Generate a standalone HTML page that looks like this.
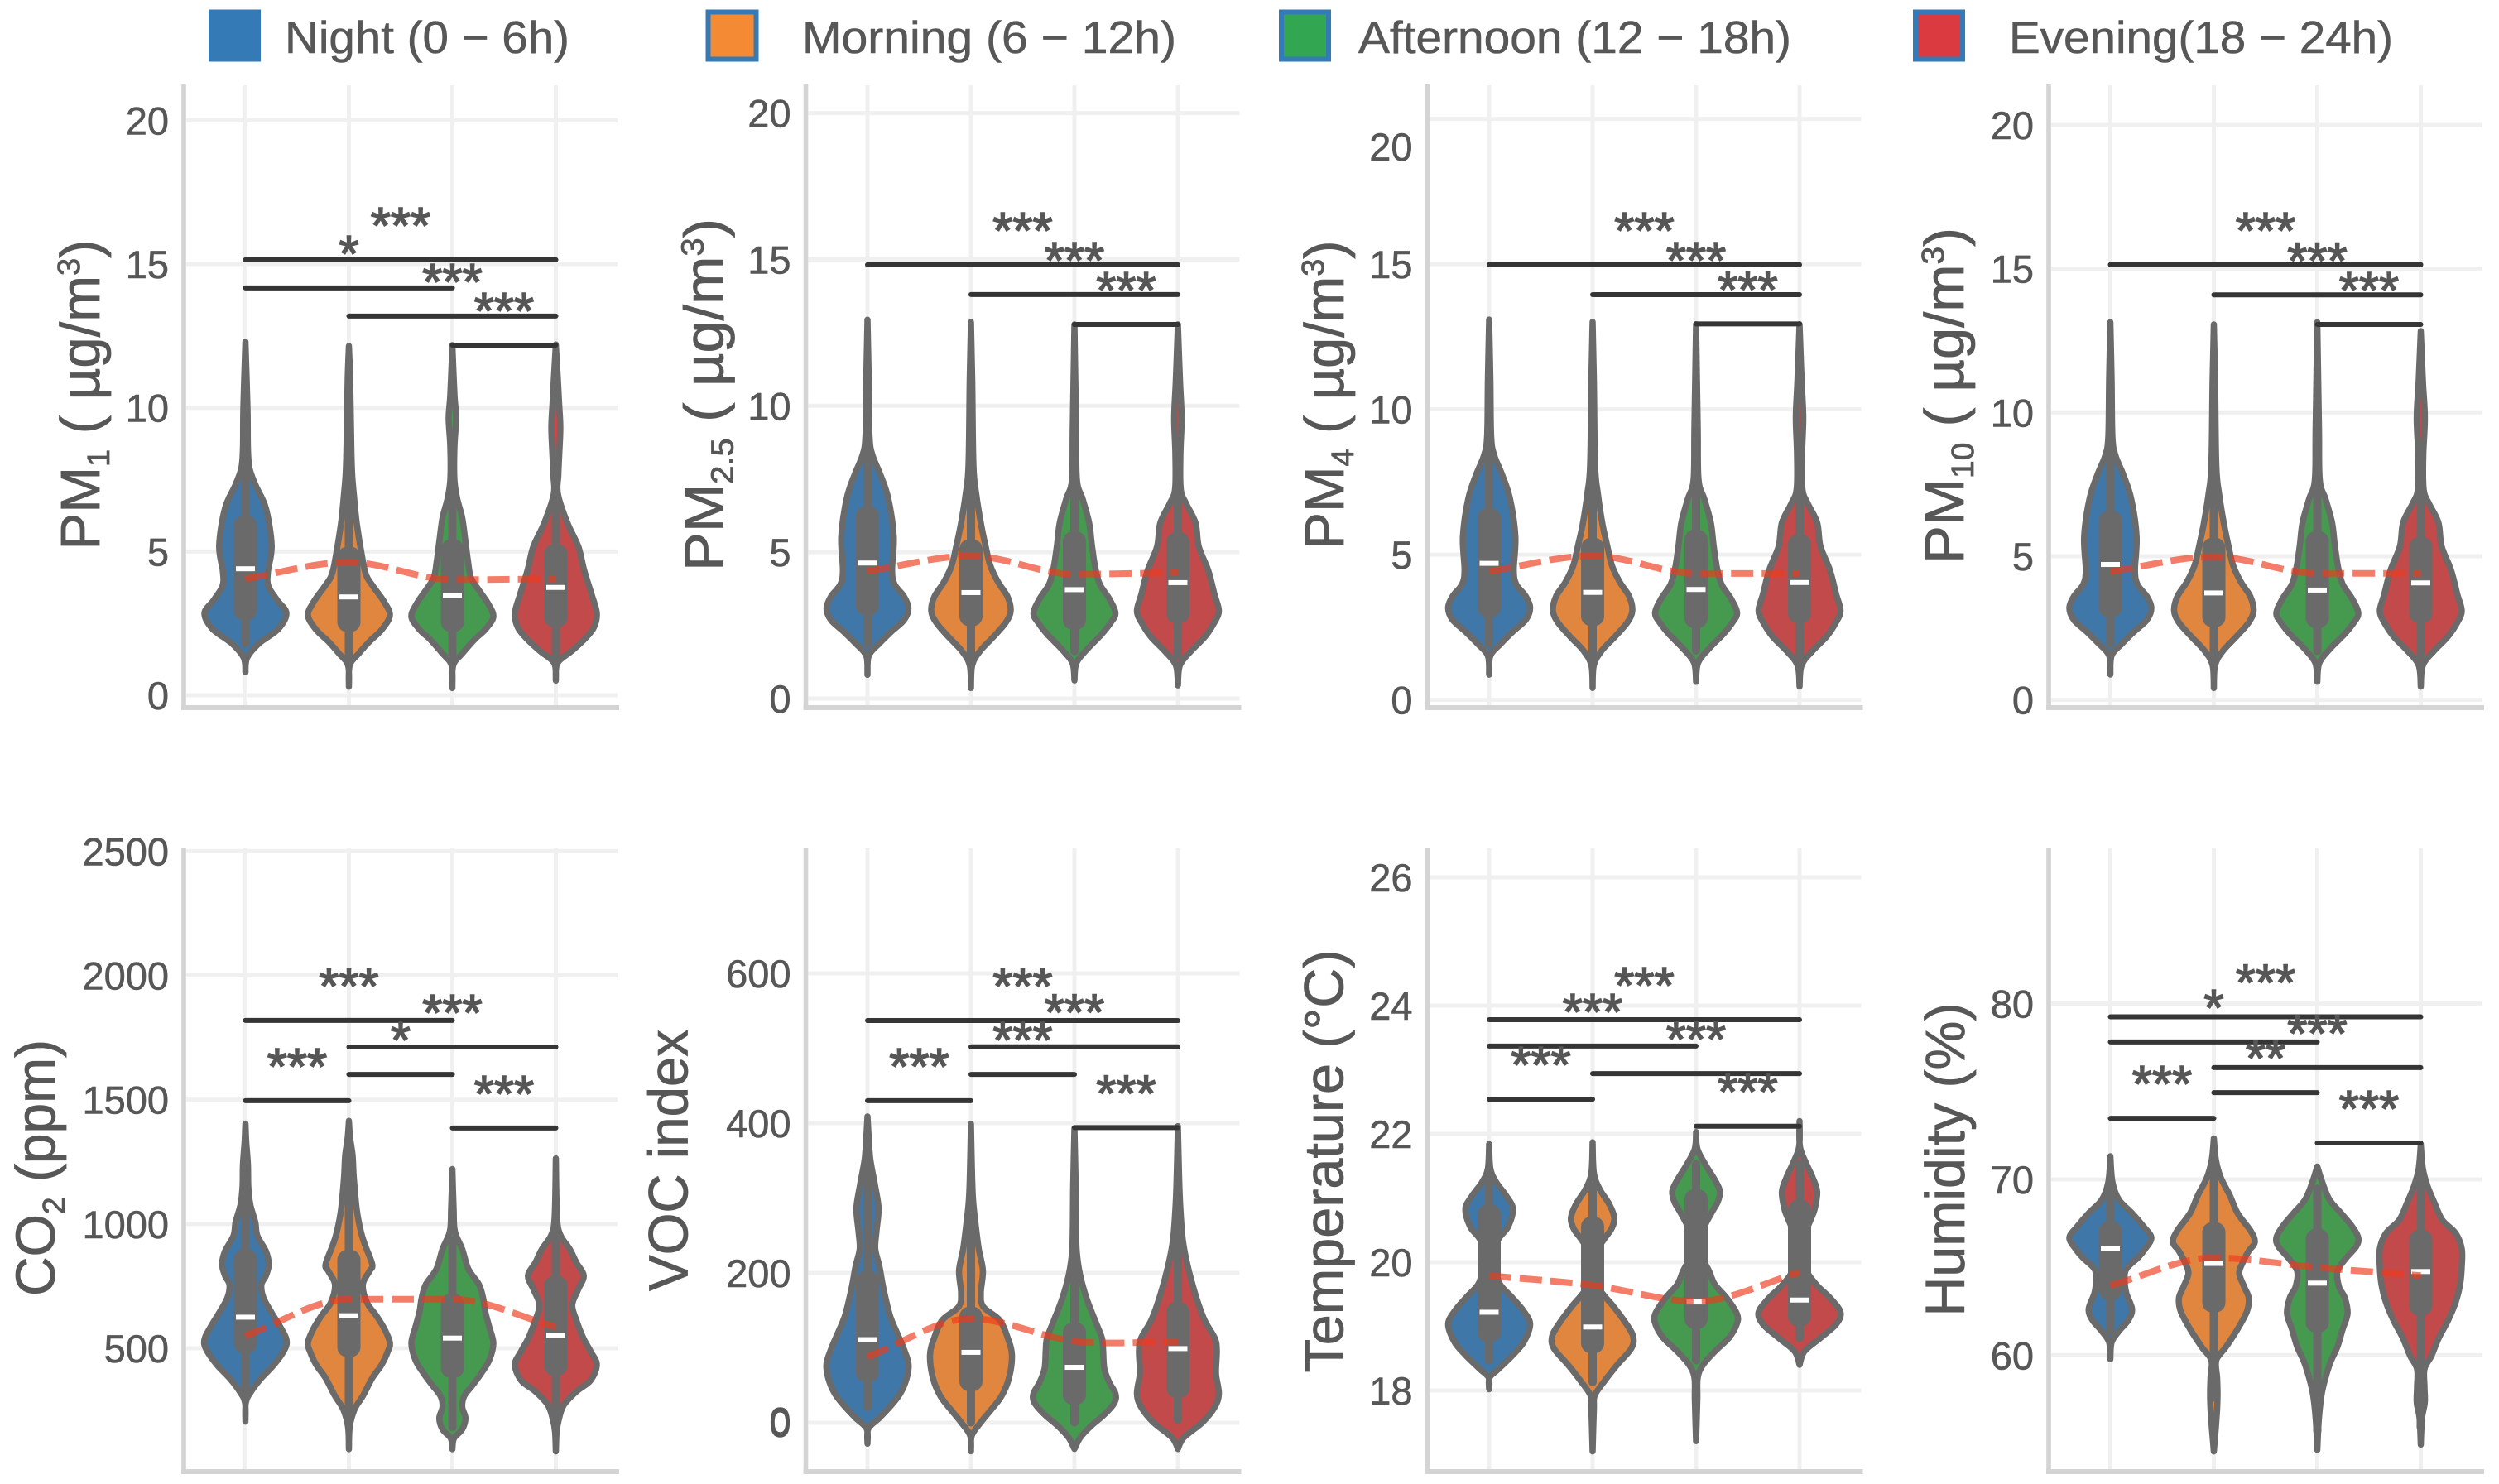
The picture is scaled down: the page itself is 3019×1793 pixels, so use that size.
<!DOCTYPE html>
<html lang="en">
<head>
<meta charset="utf-8">
<title>Air quality by time of day</title>
<style>
html,body{margin:0;padding:0;background:#fff;}
svg{display:block;font-family:"Liberation Sans",Arial,sans-serif;}
.tick{font-size:47px;fill:#575757;stroke:#575757;stroke-width:.6px;text-anchor:end;}
.legend-label{font-size:55px;fill:#575757;stroke:#575757;stroke-width:.6px;}
.ytitle{font-size:67px;fill:#575757;stroke:#575757;stroke-width:.8px;text-anchor:middle;}
.star{font-size:62px;fill:#565656;stroke:#565656;stroke-width:1.6px;text-anchor:middle;}
</style>
</head>
<body>
<svg id="chart" xmlns="http://www.w3.org/2000/svg" width="3019" height="1793" viewBox="0 0 3019 1793">
  <g>
    <rect x="252" y="11.5" width="63" height="63" fill="#337ab7"/>
    <text class="legend-label" x="344" y="64" textLength="344" lengthAdjust="spacingAndGlyphs">Night (0 − 6h)</text>
    <rect x="855.5" y="14.5" width="58" height="57" fill="#f58a35" stroke="#337ab7" stroke-width="6"/>
    <text class="legend-label" x="969" y="64" textLength="452" lengthAdjust="spacingAndGlyphs">Morning (6 − 12h)</text>
    <rect x="1548" y="14.5" width="57" height="57" fill="#33a651" stroke="#337ab7" stroke-width="6"/>
    <text class="legend-label" x="1641" y="64" textLength="523" lengthAdjust="spacingAndGlyphs">Afternoon (12 − 18h)</text>
    <rect x="2314" y="14.5" width="57" height="57" fill="#db3b40" stroke="#337ab7" stroke-width="6"/>
    <text class="legend-label" x="2427" y="64" textLength="464" lengthAdjust="spacingAndGlyphs">Evening(18 − 24h)</text>
  </g>
  <g id="plots"></g>
  <g>
    <text class="ytitle" transform="translate(120 477) rotate(-90)" textLength="375" lengthAdjust="spacingAndGlyphs">PM<tspan font-size="38" dy="12">1</tspan><tspan dy="-12"> ( µg/m</tspan><tspan font-size="38" dy="-24">3</tspan><tspan dy="24">)</tspan></text>
    <text class="ytitle" transform="translate(873.5 477) rotate(-90)" textLength="426" lengthAdjust="spacingAndGlyphs">PM<tspan font-size="38" dy="12">2.5</tspan><tspan dy="-12"> (  µg/m</tspan><tspan font-size="38" dy="-24">3</tspan><tspan dy="24">)</tspan></text>
    <text class="ytitle" transform="translate(1623 477) rotate(-90)" textLength="373" lengthAdjust="spacingAndGlyphs">PM<tspan font-size="38" dy="12">4</tspan><tspan dy="-12"> ( µg/m</tspan><tspan font-size="38" dy="-24">3</tspan><tspan dy="24">)</tspan></text>
    <text class="ytitle" transform="translate(2372 478) rotate(-90)" textLength="406" lengthAdjust="spacingAndGlyphs">PM<tspan font-size="38" dy="12">10</tspan><tspan dy="-12"> ( µg/m</tspan><tspan font-size="38" dy="-24">3</tspan><tspan dy="24">)</tspan></text>
    <text class="ytitle" transform="translate(66 1411) rotate(-90)" textLength="310" lengthAdjust="spacingAndGlyphs">CO<tspan font-size="38" dy="12">2</tspan><tspan dy="-12"> (ppm)</tspan></text>
    <text class="ytitle" transform="translate(830.5 1402) rotate(-90)" textLength="316" lengthAdjust="spacingAndGlyphs">VOC index</text>
    <text class="ytitle" transform="translate(1622.5 1403) rotate(-90)" textLength="511" lengthAdjust="spacingAndGlyphs">Temperature (°C)</text>
    <text class="ytitle" transform="translate(2373 1401) rotate(-90)" textLength="379" lengthAdjust="spacingAndGlyphs">Humidity (%)</text>
  </g>
</svg>
<script>
const periods = ['night', 'morning', 'afternoon', 'evening'];

/* ---------- PM1 ---------- */
const pm1Ticks = [0, 5, 10, 15, 20];
const pm1TickLabels = ['0', '5', '10', '15', '20'];
const pm1Levels = [
  [.8,1.3,1.8,2.3,2.85,3.3,3.8,4.3,5.2,6.5,7.3,7.9,8.6,10,12.3],
  [.3,1.04,1.45,1.87,2.28,2.78,3.27,3.77,4.18,4.84,6,7,7.65,8.48,10.96,12.15],
  [.25,1.04,1.45,1.95,2.28,2.73,3.19,3.69,4.1,4.68,5.34,6.17,6.83,7.49,8.64,9.64,10.46,12.18],
  [.51,1.12,1.54,1.95,2.36,2.86,3.52,4.35,5.17,6,7,7.65,8.31,9.31,10.13,10.96,12.2]
];
const pm1Density = [
  [0,.04,.33,.8,1,.78,.56,.55,.64,.5,.25,.1,.06,.05,0],
  [0,.02,.24,.5,.8,1,.85,.6,.42,.32,.19,.12,.08,.06,.03,0],
  [0,.02,.24,.55,.8,1,.87,.63,.45,.38,.32,.24,.12,.05,.05,.09,.05,0],
  [0,.04,.39,.7,.93,1,.87,.69,.55,.28,.05,.06,.08,.11,.08,.05,0]
];
const pm1Q1 = [2.6, 2.2, 2.2, 2.36];
const pm1Q3 = [6.25, 5.17, 5.42, 5.26];
const pm1Median = [4.4, 3.42, 3.47, 3.75];
const pm1WhiskerLow = [1.8, 1.1, 1.29, 1.4];
const pm1WhiskerHigh = [9.5, 8.6, 8.3, 7.6];
const pm1Mean = [4.05, 4.63, 4.02, 4.05];
const pm1BracketFrom = [0, 0, 1, 2];
const pm1BracketTo = [3, 2, 3, 3];
const pm1BracketValue = [15.15, 14.17, 13.19, 12.18];
const pm1Stars = ['***', '*', '***', '***'];

/* ---------- PM2.5 ---------- */
const pm25Ticks = [0, 5, 10, 15, 20];
const pm25TickLabels = ['0', '5', '10', '15', '20'];
const pm25Levels = [
  [.81,1.46,1.87,2.27,2.68,3.08,3.49,3.9,4.38,5.52,6.82,7.63,8.28,8.93,10.88,12.94],
  [.36,1.14,1.62,2.11,2.6,3,3.49,3.98,4.55,5.19,6,6.98,7.95,10.88,12.86],
  [.62,1.22,1.7,2.19,2.6,2.92,3.41,3.9,4.46,5.19,6,6.82,7.47,9.25,12.78],
  [.45,1.14,1.62,2.11,2.6,3,3.57,4.38,5.19,6,6.66,7.14,8.28,9.58,10.88,12.78]
];
const pm25Density = [
  [0,.03,.28,.57,.89,1,.89,.66,.6,.64,.51,.32,.13,.05,.03,0],
  [0,.03,.22,.55,.85,.97,.89,.66,.47,.36,.24,.13,.06,.03,0],
  [0,.05,.32,.66,.89,1,.85,.62,.51,.43,.36,.2,.06,.04,0],
  [0,.05,.32,.66,.89,1,.89,.74,.51,.43,.2,.07,.06,.09,.05,0]
];
const pm25Q1 = [2.84, 2.47, 2.35, 2.56];
const pm25Q3 = [6.57, 5.44, 5.71, 5.68];
const pm25Median = [4.63, 3.62, 3.72, 3.96];
const pm25WhiskerLow = [1.87, 1.38, 1.62, 1.46];
const pm25WhiskerHigh = [9.5, 8.8, 8.6, 8.3];
const pm25Mean = [4.35, 4.87, 4.25, 4.3];
const pm25BracketFrom = [0, 1, 2];
const pm25BracketTo = [3, 3, 3];
const pm25BracketValue = [14.82, 13.8, 12.78];
const pm25Stars = ['***', '***', '***'];

/* ---------- PM4 (its "20" label sits below the 20 gridline in the source) ---------- */
const pm4Ticks = [0, 5, 10, 15, 20];
const pm4TickLabels = ['0', '5', '10', '15', '20'];
const pm4LabelValues = [0, 5, 10, 15, 19.05];
const pm4Levels = [
  [.87,1.52,1.93,2.34,2.75,3.16,3.57,3.98,4.47,5.61,6.92,7.74,8.4,9.05,11.01,13.09],
  [.41,1.19,1.69,2.18,2.67,3.08,3.57,4.06,4.63,5.29,6.05,7.09,8.07,11.01,13.01],
  [.62,1.28,1.77,2.26,2.67,3,3.49,3.98,4.55,5.29,6.1,6.92,7.58,9.38,12.93],
  [.46,1.19,1.69,2.18,2.67,3.08,3.65,4.47,5.29,6.1,6.76,7.25,8.4,9.71,11.01,12.93]
];
const pm4Density = [
  [0,.03,.28,.57,.89,1,.89,.66,.6,.64,.51,.32,.13,.05,.03,0],
  [0,.03,.22,.55,.85,.97,.89,.66,.47,.36,.24,.13,.06,.03,0],
  [0,.05,.32,.66,.89,1,.85,.62,.51,.43,.36,.2,.06,.04,0],
  [0,.05,.32,.66,.89,1,.89,.74,.51,.43,.2,.07,.06,.09,.05,0]
];
const pm4Q1 = [2.83, 2.54, 2.47, 2.63];
const pm4Q3 = [6.6, 5.58, 5.86, 5.7];
const pm4Median = [4.7, 3.7, 3.8, 4.04];
const pm4WhiskerLow = [1.93, 1.4, 1.7, 1.5];
const pm4WhiskerHigh = [9.6, 8.9, 8.7, 8.4];
const pm4Mean = [4.42, 4.96, 4.35, 4.35];
const pm4BracketFrom = [0, 1, 2];
const pm4BracketTo = [3, 3, 3];
const pm4BracketValue = [14.98, 13.95, 12.94];
const pm4Stars = ['***', '***', '***'];

/* ---------- PM10 ---------- */
const pm10Ticks = [0, 5, 10, 15, 20];
const pm10TickLabels = ['0', '5', '10', '15', '20'];
const pm10Levels = [
  [.88,1.54,1.95,2.36,2.78,3.19,3.6,4.02,4.51,5.67,6.99,7.82,8.48,9.14,11.12,13.14],
  [.41,1.2,1.7,2.2,2.69,3.1,3.6,4.1,4.68,5.34,6.17,7.16,8.15,11.12,13.06],
  [.63,1.29,1.79,2.28,2.69,3.02,3.52,4.02,4.6,5.34,6.17,6.99,7.65,9.47,13.14],
  [.46,1.2,1.7,2.2,2.69,3.1,3.68,4.51,5.34,6.17,6.83,7.32,8.48,9.8,11.12,12.83]
];
const pm10Density = [
  [0,.03,.28,.57,.89,1,.89,.66,.6,.64,.51,.32,.13,.05,.03,0],
  [0,.03,.22,.55,.85,.97,.89,.66,.47,.36,.24,.13,.06,.03,0],
  [0,.05,.32,.66,.89,1,.85,.62,.51,.43,.36,.2,.06,.04,0],
  [0,.05,.32,.66,.89,1,.89,.74,.51,.43,.2,.07,.06,.1,.05,0]
];
const pm10Q1 = [2.86, 2.53, 2.5, 2.66];
const pm10Q3 = [6.58, 5.64, 5.87, 5.67];
const pm10Median = [4.71, 3.72, 3.82, 4.07];
const pm10WhiskerLow = [1.95, 1.4, 1.7, 1.5];
const pm10WhiskerHigh = [9.7, 9, 8.8, 8.5];
const pm10Mean = [4.46, 4.98, 4.4, 4.4];
const pm10BracketFrom = [0, 1, 2];
const pm10BracketTo = [3, 3, 3];
const pm10BracketValue = [15.14, 14.09, 13.06];
const pm10Stars = ['***', '***', '***'];

/* ---------- CO2 ---------- */
const co2Ticks = [500, 1000, 1500, 2000, 2500];
const co2TickLabels = ['500', '1000', '1500', '2000', '2500'];
const co2Levels = [
  [205,282,326,380,434,496,536,586,640,703,756,792,837,890,953,1007,1078,1150,1239,1329,1404],
  [94,183,255,308,380,434,487,523,577,631,684,756,810,837,917,971,1060,1186,1275,1347,1415],
  [94,138,174,219,264,308,353,398,452,520,586,649,702,756,819,899,971,1060,1221],
  [85,165,219,273,326,371,434,487,541,613,675,738,792,845,899,953,1024,1264]
];
const co2Density = [
  [0,.01,.14,.39,.7,.96,1,.85,.65,.44,.39,.5,.57,.5,.29,.24,.12,.07,.06,.02,0],
  [0,.02,.14,.34,.57,.8,.95,1,.87,.67,.44,.34,.5,.57,.39,.29,.19,.12,.09,.03,0],
  [0,.04,.24,.32,.24,.29,.5,.7,.9,1,.9,.8,.75,.65,.39,.24,.06,.03,0],
  [0,.02,.08,.2,.5,.85,1,.85,.67,.5,.4,.55,.68,.5,.34,.12,.03,0]
];
const co2Q1 = [479, 464, 380, 389];
const co2Q3 = [899, 896, 720, 792];
const co2Median = [625, 631, 541, 552];
const co2WhiskerLow = [291, 210, 183, 174];
const co2WhiskerHigh = [1290, 1290, 935, 971];
const co2Mean = [550, 697, 697, 586];
const co2BracketFrom = [0, 1, 1, 0, 2];
const co2BracketTo = [2, 3, 2, 1, 3];
const co2BracketValue = [1819, 1712, 1602, 1496, 1386];
const co2Stars = ['***', '***', '*', '***', '***'];

/* ---------- VOC ---------- */
const vocTicks = [0, 200, 400, 600];
const vocTickLabels = ['0', '200', '400', '600'];
const vocGhostTicks = [3];
const vocGhostLabels = ['0'];
const vocLevels = [
  [-28,-8,6.5,21.4,39,60,79,101,119,143,179,209,232,256,286,315,351,381,409],
  [-38,-17,.6,18,36,60,90,113,137,155,173,203,232,262,298,345,399],
  [-35,-20,-5,12,27,39,54,72,96,113,137,167,197,226,256,315,393],
  [-35,-20,.6,21,39,66,96,113,137,167,209,244,286,327,396]
];
const vocDensity = [
  [0,.02,.29,.55,.8,.96,1,.87,.73,.55,.39,.29,.19,.22,.27,.19,.07,.03,0],
  [0,.02,.24,.5,.75,.93,1,.9,.7,.3,.24,.29,.19,.12,.05,.02,0],
  [0,.14,.39,.75,.98,1,.85,.73,.7,.67,.5,.29,.14,.06,.04,.03,0],
  [0,.14,.6,.9,1,.93,.95,.9,.65,.45,.24,.12,.06,.03,0]
];
const vocQ1 = [54, 42, 24, 33];
const vocQ3 = [203, 155, 134, 161];
const vocMedian = [111, 94, 74, 99];
const vocWhiskerLow = [21, .6, .6, 4];
const vocWhiskerHigh = [351, 274, 244, 286];
const vocMean = [88, 139, 109, 108];
const vocBracketFrom = [0, 1, 1, 0, 2];
const vocBracketTo = [3, 3, 2, 1, 3];
const vocBracketValue = [537, 502, 465, 430, 394];
const vocStars = ['***', '***', '***', '***', '***'];

/* ---------- Temperature ---------- */
const tempTicks = [18, 20, 22, 24, 26];
const tempTickLabels = ['18', '20', '22', '24', '26'];
const tempLevels = [
  [18.02,18.2,18.33,18.54,18.75,19.03,19.24,19.45,19.65,19.86,20.07,20.35,20.55,20.83,21.04,21.25,21.46,21.84],
  [17.05,17.71,17.92,18.13,18.4,18.65,18.84,19.06,19.31,19.58,19.86,20.14,20.35,20.52,20.69,20.9,21.14,21.39,21.87],
  [17.21,17.85,18.2,18.4,18.61,18.82,19.03,19.19,19.44,19.65,19.86,20.14,20.49,20.76,20.94,21.11,21.28,21.53,21.77,22.03],
  [18.4,18.61,18.82,19.03,19.22,19.44,19.65,19.9,20.21,20.49,20.66,20.83,21.1,21.32,21.53,21.8,22.2]
];
const tempDensity = [
  [0,.01,.22,.56,.84,1,.84,.56,.27,.17,.13,.22,.46,.58,.41,.17,.03,0],
  [0,.03,.05,.27,.6,.94,.99,.8,.51,.17,.08,.08,.27,.46,.53,.41,.17,.03,0],
  [0,.03,.04,.17,.46,.8,.99,1,.75,.46,.32,.12,.17,.37,.53,.58,.46,.22,.03,0],
  [0,.12,.51,.89,1,.75,.41,.15,.13,.17,.27,.37,.43,.32,.17,.01,0]
];
const tempQ1 = [18.75, 18.58, 18.96, 19];
const tempQ3 = [20.9, 20.71, 21.14, 20.97];
const tempMedian = [19.22, 18.99, 19.38, 19.41];
const tempWhiskerLow = [18.47, 18.13, 18.47, 18.82];
const tempWhiskerHigh = [21.46, 21.18, 21.53, 21.53];
const tempMean = [19.79, 19.64, 19.39, 19.84];
const tempBracketFrom = [0, 0, 1, 0, 2];
const tempBracketTo = [3, 2, 3, 1, 3];
const tempBracketValue = [23.78, 23.37, 22.94, 22.54, 22.12];
const tempStars = ['***', '***', '***', '***', '***'];

/* ---------- Humidity ---------- */
const humTicks = [60, 70, 80];
const humTickLabels = ['60', '70', '80'];
const humLevels = [
  [59.77,60.73,61.37,62,62.63,63.52,64.28,64.91,65.54,66.05,66.68,67.32,68.08,68.84,69.85,71.32],
  [54.53,55.92,56.94,57.82,58.71,59.72,60.48,61.49,62.51,63.27,63.9,64.66,65.29,65.92,66.43,67.06,68.08,69.09,70.1,71.11,72.33],
  [54.61,56.43,57.95,59.47,60.48,61.49,62.38,63.27,63.9,64.78,65.54,66.18,66.68,67.32,68.08,68.84,69.85,70.73],
  [54.91,56.43,57.32,58.2,59.22,59.97,60.99,62,63.01,64.03,65.04,66.05,66.94,67.68,68.58,69.59,70.61,72]
];
const humDensity = [
  [0,.03,.21,.44,.53,.39,.35,.39,.67,.85,1,.81,.53,.21,.05,0],
  [0,.05,.08,.09,.08,.06,.3,.58,.81,.85,.74,.62,.71,.85,1,.9,.58,.39,.17,.05,0],
  [0,.04,.12,.3,.49,.62,.74,.67,.53,.49,.71,.95,1,.85,.58,.3,.12,0],
  [0,.03,.1,.09,.09,.26,.44,.67,.85,.96,1,1,.85,.53,.35,.17,.05,0]
];
const humQ1 = [63.14, 62.43, 61.29, 62.25];
const humQ3 = [67.62, 67.57, 67.19, 67.14];
const humMedian = [66.05, 65.22, 64.1, 64.76];
const humWhiskerLow = [61.37, 57.6, 55.7, 55.9];
const humWhiskerHigh = [69.85, 70.86, 69.47, 70.1];
const humMean = [63.97, 65.54, 64.99, 64.53];
const humBracketFrom = [0, 0, 1, 1, 0, 2];
const humBracketTo = [3, 2, 3, 2, 1, 3];
const humBracketValue = [79.25, 77.82, 76.36, 74.94, 73.48, 72.07];
const humStars = ['***', '*', '***', '**', '***', '***'];

/* ---------- panel layout (axis calibration only) ---------- */
const layout = [
  {id:'pm1', x0:222, top:102, bottom:855, base:0, basePx:840, k:34.73, ticks:pm1Ticks, labels:pm1TickLabels, levels:pm1Levels, density:pm1Density, q1:pm1Q1, q3:pm1Q3, med:pm1Median, lo:pm1WhiskerLow, hi:pm1WhiskerHigh, mean:pm1Mean, bf:pm1BracketFrom, bt:pm1BracketTo, bv:pm1BracketValue, stars:pm1Stars},
  {id:'pm25', x0:973.5, top:102, bottom:855, base:0, basePx:844, k:35.37, ticks:pm25Ticks, labels:pm25TickLabels, levels:pm25Levels, density:pm25Density, q1:pm25Q1, q3:pm25Q3, med:pm25Median, lo:pm25WhiskerLow, hi:pm25WhiskerHigh, mean:pm25Mean, bf:pm25BracketFrom, bt:pm25BracketTo, bv:pm25BracketValue, stars:pm25Stars},
  {id:'pm4', x0:1724.5, top:102, bottom:855, base:0, basePx:845.6, k:35.1, ticks:pm4Ticks, labels:pm4TickLabels, labelValues:pm4LabelValues, levels:pm4Levels, density:pm4Density, q1:pm4Q1, q3:pm4Q3, med:pm4Median, lo:pm4WhiskerLow, hi:pm4WhiskerHigh, mean:pm4Mean, bf:pm4BracketFrom, bt:pm4BracketTo, bv:pm4BracketValue, stars:pm4Stars},
  {id:'pm10', x0:2475, top:102, bottom:855, base:0, basePx:845.6, k:34.73, ticks:pm10Ticks, labels:pm10TickLabels, levels:pm10Levels, density:pm10Density, q1:pm10Q1, q3:pm10Q3, med:pm10Median, lo:pm10WhiskerLow, hi:pm10WhiskerHigh, mean:pm10Mean, bf:pm10BracketFrom, bt:pm10BracketTo, bv:pm10BracketValue, stars:pm10Stars},
  {id:'co2', x0:222, top:1024, bottom:1778, base:500, basePx:1629, k:0.3003, ticks:co2Ticks, labels:co2TickLabels, levels:co2Levels, density:co2Density, q1:co2Q1, q3:co2Q3, med:co2Median, lo:co2WhiskerLow, hi:co2WhiskerHigh, mean:co2Mean, bf:co2BracketFrom, bt:co2BracketTo, bv:co2BracketValue, stars:co2Stars},
  {id:'voc', x0:973.5, top:1024, bottom:1778, base:0, basePx:1719, k:0.905, ticks:vocTicks, labels:vocTickLabels, ghostTicks:vocGhostTicks, ghostLabels:vocGhostLabels, levels:vocLevels, density:vocDensity, q1:vocQ1, q3:vocQ3, med:vocMedian, lo:vocWhiskerLow, hi:vocWhiskerHigh, mean:vocMean, bf:vocBracketFrom, bt:vocBracketTo, bv:vocBracketValue, stars:vocStars},
  {id:'temperature', x0:1724.5, top:1024, bottom:1778, base:20, basePx:1525, k:77.5, ticks:tempTicks, labels:tempTickLabels, levels:tempLevels, density:tempDensity, q1:tempQ1, q3:tempQ3, med:tempMedian, lo:tempWhiskerLow, hi:tempWhiskerHigh, mean:tempMean, bf:tempBracketFrom, bt:tempBracketTo, bv:tempBracketValue, stars:tempStars},
  {id:'humidity', x0:2475, top:1024, bottom:1778, base:70, basePx:1425, k:21.24, ticks:humTicks, labels:humTickLabels, levels:humLevels, density:humDensity, q1:humQ1, q3:humQ3, med:humMedian, lo:humWhiskerLow, hi:humWhiskerHigh, mean:humMean, bf:humBracketFrom, bt:humBracketTo, bv:humBracketValue, stars:humStars}
];

const fills = ['#3f78a8', '#e0863e', '#469a50', '#c24a4a'];
const NS = 'http://www.w3.org/2000/svg';

function make(parent, tag, attrs) {
  const node = document.createElementNS(NS, tag);
  for (const key in attrs) node.setAttribute(key, attrs[key]);
  parent.appendChild(node);
  return node;
}

function spline(points) {
  let d = '';
  for (let i = 0; i < points.length - 1; i++) {
    const p0 = points[Math.max(i - 1, 0)];
    const p1 = points[i];
    const p2 = points[i + 1];
    const p3 = points[Math.min(i + 2, points.length - 1)];
    const c1x = p1[0] + (p2[0] - p0[0]) / 6;
    const c1y = p1[1] + (p2[1] - p0[1]) / 6;
    const c2x = p2[0] - (p3[0] - p1[0]) / 6;
    const c2y = p2[1] - (p3[1] - p1[1]) / 6;
    d += 'C' + c1x.toFixed(1) + ' ' + c1y.toFixed(1) + ' ' + c2x.toFixed(1) + ' ' + c2y.toFixed(1) + ' ' + p2[0].toFixed(1) + ' ' + p2[1].toFixed(1);
  }
  return d;
}

/* monotone curve so the mean trend never overshoots its values */
function monotone(points) {
  const slope = points.map((p, i) => {
    if (i === 0) return (points[1][1] - p[1]) / (points[1][0] - p[0]);
    if (i === points.length - 1) return (p[1] - points[i - 1][1]) / (p[0] - points[i - 1][0]);
    const a = (p[1] - points[i - 1][1]) / (p[0] - points[i - 1][0]);
    const b = (points[i + 1][1] - p[1]) / (points[i + 1][0] - p[0]);
    return a * b <= 0 ? 0 : (a + b) / 2;
  });
  let d = 'M' + points[0][0] + ' ' + points[0][1].toFixed(1);
  for (let i = 0; i < points.length - 1; i++) {
    const h = (points[i + 1][0] - points[i][0]) / 3;
    d += 'C' + (points[i][0] + h) + ' ' + (points[i][1] + slope[i] * h).toFixed(1) + ' ' + (points[i + 1][0] - h) + ' ' + (points[i + 1][1] - slope[i + 1] * h).toFixed(1) + ' ' + points[i + 1][0] + ' ' + points[i + 1][1].toFixed(1);
  }
  return d;
}

function drawPanel(p, root) {
  const xBand = (cat) => p.x0 + 74.5 + 125 * cat;
  const yAxis = (v) => p.basePx - (v - p.base) * p.k;
  const widthAxis = (d) => 0.396 * 125 * d;

  const g = make(root, 'g', {});
  
  

  p.ticks.forEach((t, i) => {
    const line = make(g, 'line', {x1: p.x0 + 3, x2: p.x0 + 524, y1: yAxis(t), y2: yAxis(t), stroke: '#f0f0f0', 'stroke-width': 5});
    
    
    const at = p.labelValues ? p.labelValues[i] : t;
    const label = make(g, 'text', {class: 'tick', x: p.x0 - 18, y: yAxis(at) + 17});
    label.textContent = p.labels[i];
    
    
  });
  (p.ghostTicks || []).forEach((t, i) => {
    const ghost = make(g, 'text', {class: 'tick', x: p.x0 - 18, y: yAxis(t) + 17});
    ghost.textContent = p.ghostLabels[i];
    
    
  });

  periods.forEach((name, c) => {
    const grid = make(g, 'line', {x1: xBand(c), x2: xBand(c), y1: p.top + 1, y2: p.bottom - 3, stroke: '#f0f0f0', 'stroke-width': 5});
    
    
  });

  const spineLeft = make(g, 'line', {x1: p.x0, x2: p.x0, y1: p.top, y2: p.bottom, stroke: '#d4d4d4', 'stroke-width': 5.6});
  
  
  const spineBottom = make(g, 'line', {x1: p.x0 - 3, x2: p.x0 + 526, y1: p.bottom, y2: p.bottom, stroke: '#d4d4d4', 'stroke-width': 6});
  
  

  periods.forEach((name, c) => {
    const cx = xBand(c);
    const right = p.levels[c].map((v, i) => [cx + widthAxis(p.density[c][i]), yAxis(v)]);
    const left = p.levels[c].map((v, i) => [cx - widthAxis(p.density[c][i]), yAxis(v)]).reverse();
    const d = 'M' + right[0][0].toFixed(1) + ' ' + right[0][1].toFixed(1) + spline(right) + 'L' + left[0][0].toFixed(1) + ' ' + left[0][1].toFixed(1) + spline(left) + 'Z';
    const violin = make(g, 'path', {d: d, fill: fills[c], stroke: '#6a6a6b', 'stroke-width': 7.5, 'stroke-linejoin': 'round'});
    
    

    const whisker = make(g, 'line', {x1: cx, x2: cx, y1: yAxis(p.lo[c]), y2: yAxis(p.hi[c]), stroke: '#6a6a6b', 'stroke-width': 10, 'stroke-linecap': 'round'});
    
    

    const box = make(g, 'rect', {x: cx - 14, width: 28, y: yAxis(p.q3[c]), height: yAxis(p.q1[c]) - yAxis(p.q3[c]), rx: 12, ry: 12, fill: '#6a6a6b'});
    
    

    const median = make(g, 'rect', {x: cx - 11.5, width: 23, y: yAxis(p.med[c]) - 3, height: 6, fill: '#ffffff'});
    
    
  });

  const meanPts = p.mean.map((v, c) => [xBand(c), yAxis(v)]);
  const meanLine = make(g, 'path', {d: monotone(meanPts), fill: 'none', stroke: '#ee3a1c', 'stroke-opacity': 0.66, 'stroke-width': 8, 'stroke-dasharray': '27 10'});
  
  

  p.bv.forEach((v, i) => {
    const x1 = xBand(p.bf[i]);
    const x2 = xBand(p.bt[i]);
    const bracket = make(g, 'line', {x1: x1, x2: x2, y1: yAxis(v), y2: yAxis(v), stroke: '#353535', 'stroke-width': 6, 'stroke-linecap': 'round'});
    
    
    const star = make(g, 'text', {class: 'star', x: (x1 + x2) / 2, y: yAxis(v) - 20});
    star.textContent = p.stars[i];
    
    
  });
}

const plotsRoot = document.getElementById('plots');
layout.forEach((p) => drawPanel(p, plotsRoot));
</script>
</body>
</html>
